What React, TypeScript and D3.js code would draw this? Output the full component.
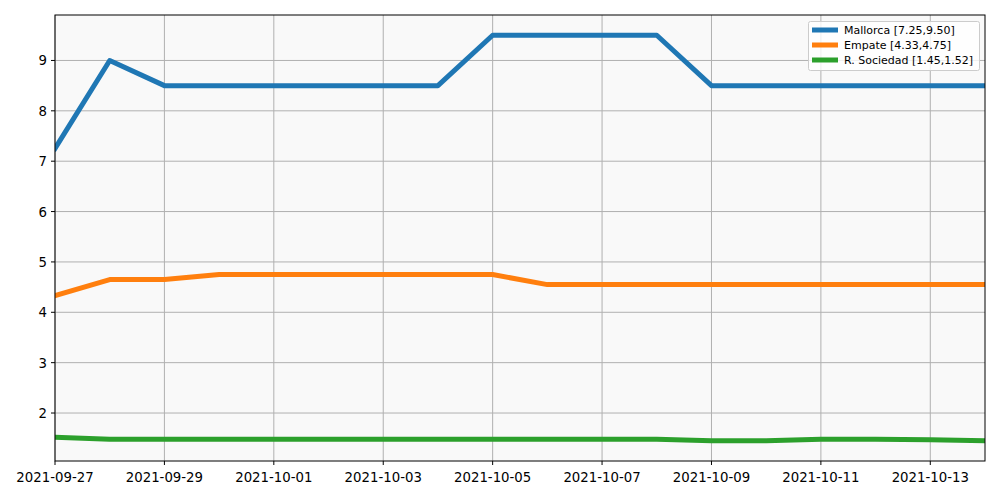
import React from "react";
import * as d3 from "d3";

const dates = [
  "2021-09-27","2021-09-28","2021-09-29","2021-09-30","2021-10-01","2021-10-02",
  "2021-10-03","2021-10-04","2021-10-05","2021-10-06","2021-10-07","2021-10-08",
  "2021-10-09","2021-10-10","2021-10-11","2021-10-12","2021-10-13","2021-10-14",
];
const mallorca = [7.25, 9.0, 8.5, 8.5, 8.5, 8.5, 8.5, 8.5, 9.5, 9.5, 9.5, 9.5, 8.5, 8.5, 8.5, 8.5, 8.5, 8.5];
const empate = [4.33, 4.65, 4.65, 4.75, 4.75, 4.75, 4.75, 4.75, 4.75, 4.55, 4.55, 4.55, 4.55, 4.55, 4.55, 4.55, 4.55, 4.55];
const sociedad = [1.52, 1.48, 1.48, 1.48, 1.48, 1.48, 1.48, 1.48, 1.48, 1.48, 1.48, 1.48, 1.45, 1.45, 1.48, 1.48, 1.47, 1.45];
const seriesNames = ["Mallorca [7.25,9.50]", "Empate [4.33,4.75]", "R. Sociedad [1.45,1.52]"];
const colors = ["#1f77b4", "#ff7f0e", "#2ca02c"];
const xTickLabels = [
  "2021-09-27","2021-09-29","2021-10-01","2021-10-03","2021-10-05",
  "2021-10-07","2021-10-09","2021-10-11","2021-10-13",
];
const yTicks = [2, 3, 4, 5, 6, 7, 8, 9];

const parse = d3.utcParse("%Y-%m-%d");

export default function App() {
  const W = 1000, H = 500;
  const left = 55, right = 985, top = 15, bottom = 461;
  const x = d3.scaleUtc()
    .domain([parse(dates[0])!, parse(dates[dates.length - 1])!])
    .range([left, right]);
  const all = [...mallorca, ...empate, ...sociedad];
  const mn = d3.min(all)!, mx = d3.max(all)!;
  const pad = (mx - mn) * 0.05;
  const y = d3.scaleLinear().domain([mn - pad, mx + pad]).range([bottom, top]);
  const line = d3.line<number>()
    .x((_, i) => x(parse(dates[i])!))
    .y((d) => y(d));
  const series = [mallorca, empate, sociedad];
  const font = "DejaVu Sans, sans-serif";

  return (
    <svg width={W} height={H} style={{ position: "absolute", left: 0, top: 0, background: "#fff" }}>
      <defs>
        <clipPath id="clip">
          <rect x={left} y={top} width={right - left} height={bottom - top} />
        </clipPath>
      </defs>
      <rect x={left} y={top} width={right - left} height={bottom - top} fill="#f9f9f9" />
      {xTickLabels.map((t) => {
        const px = x(parse(t)!);
        return <line key={"gx" + t} x1={px} x2={px} y1={top} y2={bottom} stroke="#b0b0b0" strokeWidth={1} />;
      })}
      {yTicks.map((t) => (
        <line key={"gy" + t} x1={left} x2={right} y1={y(t)} y2={y(t)} stroke="#b0b0b0" strokeWidth={1} />
      ))}
      <g clipPath="url(#clip)">
        {series.map((s, i) => (
          <path key={i} d={line(s)!} fill="none" stroke={colors[i]} strokeWidth={5} strokeLinejoin="round" strokeLinecap="square" />
        ))}
      </g>
      <rect x={left} y={top} width={right - left} height={bottom - top} fill="none" stroke="#000" strokeWidth={1} />
      {xTickLabels.map((t) => {
        const px = x(parse(t)!);
        return (
          <g key={"tx" + t}>
            <line x1={px} x2={px} y1={bottom} y2={bottom + 4} stroke="#000" />
            <text x={px} y={bottom + 21} textAnchor="middle" fontFamily={font} fontSize={13.3} fill="#000">{t}</text>
          </g>
        );
      })}
      {yTicks.map((t) => (
        <g key={"ty" + t}>
          <line x1={left - 4} x2={left} y1={y(t)} y2={y(t)} stroke="#000" />
          <text x={left - 8} y={y(t) + 5} textAnchor="end" fontFamily={font} fontSize={13.3} fill="#000">{t}</text>
        </g>
      ))}
      <g>
        <rect x={808.5} y={21.5} width={171} height={49} rx={2} fill="#fff" fillOpacity={0.8} stroke="#ccc" />
        {seriesNames.map((n, i) => (
          <g key={n}>
            <line x1={812} x2={838} y1={30 + i * 15} y2={30 + i * 15} stroke={colors[i]} strokeWidth={5} />
            <text x={844} y={34 + i * 15} fontFamily={font} fontSize={11} fill="#000">{n}</text>
          </g>
        ))}
      </g>
    </svg>
  );
}
